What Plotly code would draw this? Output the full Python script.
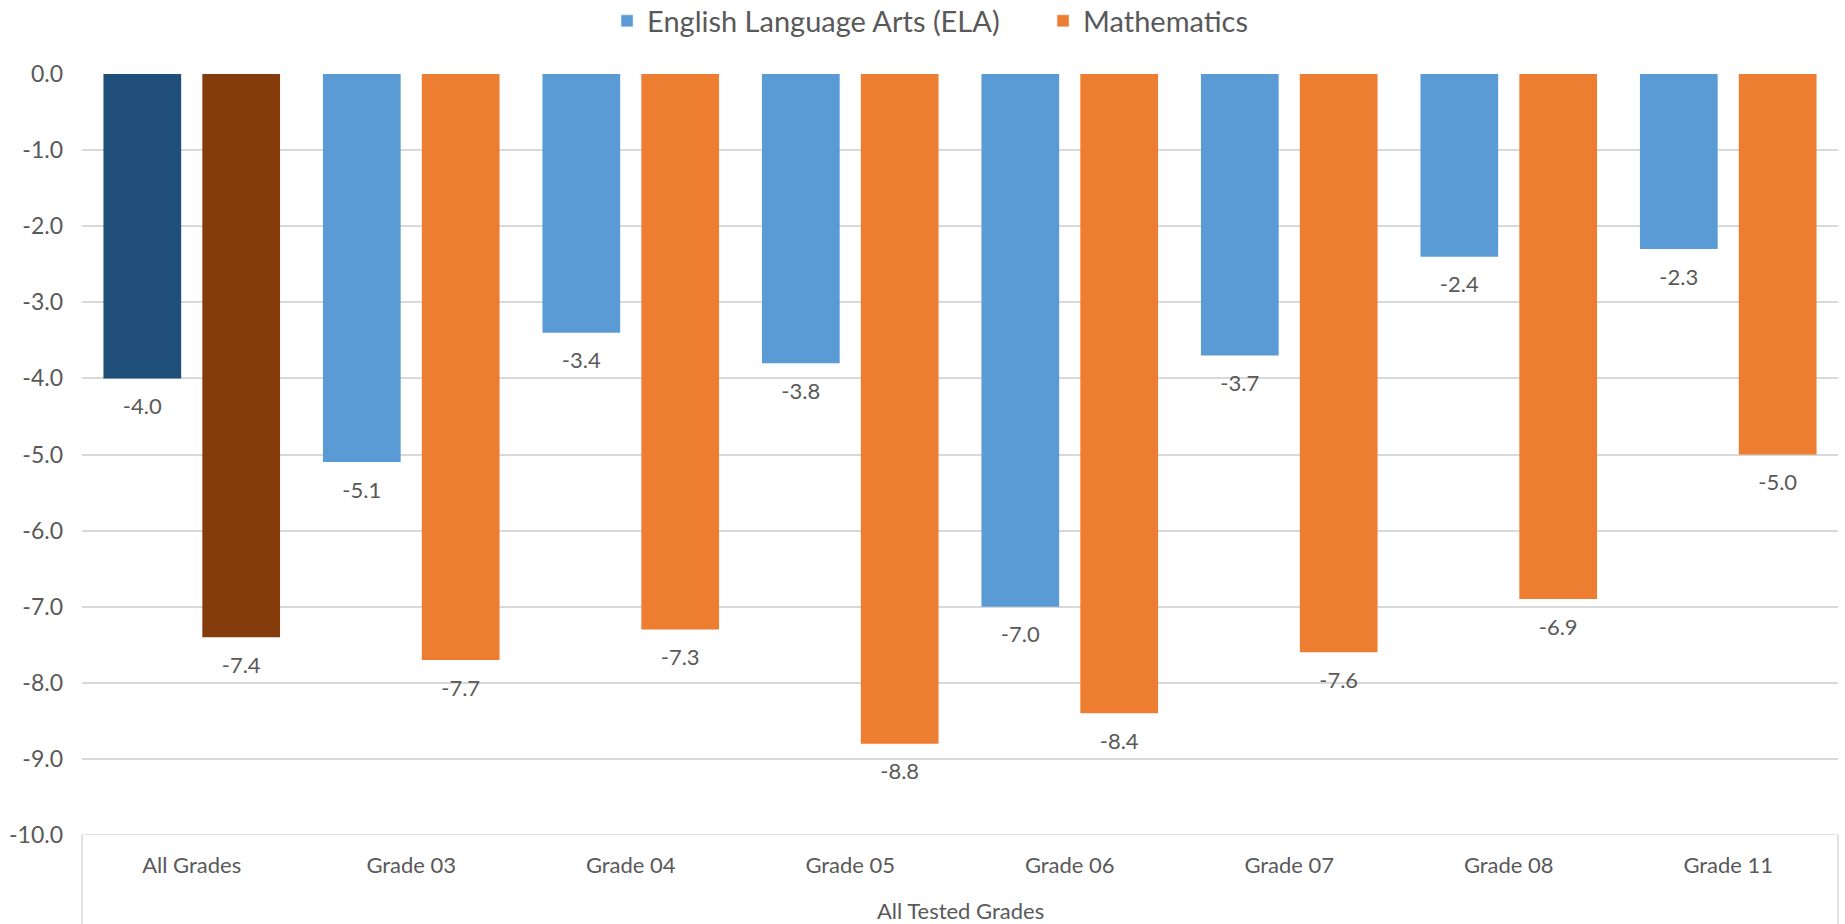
import plotly.graph_objects as go

categories = ["All Grades", "Grade 03", "Grade 04", "Grade 05", "Grade 06", "Grade 07", "Grade 08", "Grade 11"]
ela_values = [-4.0, -5.1, -3.4, -3.8, -7.0, -3.7, -2.4, -2.3]
math_values = [-7.4, -7.7, -7.3, -8.8, -8.4, -7.6, -6.9, -5.0]
group_label = "All Tested Grades"
series_names = ["English Language Arts (ELA)", "Mathematics"]
ytick_values = [0, -1, -2, -3, -4, -5, -6, -7, -8, -9, -10]
ytick_labels = ["0.0", "-1.0", "-2.0", "-3.0", "-4.0", "-5.0", "-6.0", "-7.0", "-8.0", "-9.0", "-10.0"]

ELA_COLOR, ELA_DARK = "#5B9BD5", "#1F4E79"
MATH_COLOR, MATH_DARK = "#ED7D31", "#843C0C"
TEXT = "#595959"
GRID = "#D9D9D9"
FONT = "Lato, Carlito, Calibri, sans-serif"

W, H = 1845, 924
ML, MR, MT, MB = 82, 7, 74, 89
PLOT_H = H - MT - MB

ela_colors = [ELA_DARK if c == "All Grades" else ELA_COLOR for c in categories]
math_colors = [MATH_DARK if c == "All Grades" else MATH_COLOR for c in categories]

fig = go.Figure()
series = [
    (series_names[0], ela_values, ela_colors, ELA_COLOR, "ela"),
    (series_names[1], math_values, math_colors, MATH_COLOR, "math"),
]
for name, vals, cols, base, grp in series:
    fig.add_trace(go.Bar(x=categories, y=vals, name=name, offsetgroup=grp,
                         marker=dict(color=cols, line=dict(width=0)),
                         showlegend=False, hoverinfo="x+y"))
for name, vals, cols, base, grp in series:
    fig.add_trace(go.Bar(x=[categories[0]], y=[None], name=name, offsetgroup=grp,
                         marker=dict(color=base), showlegend=True, hoverinfo="skip"))
for name, vals, cols, base, grp in series:
    fig.add_trace(go.Scatter(x=categories, y=vals, mode="markers+text", offsetgroup=grp,
                             text=[f"{v:.1f}" for v in vals], textposition="bottom center",
                             marker=dict(size=29, color="rgba(0,0,0,0)"),
                             textfont=dict(size=22, color=TEXT, family=FONT),
                             showlegend=False, hoverinfo="skip", cliponaxis=False))

fig.update_layout(
    width=W, height=H,
    margin=dict(l=ML, r=MR, t=MT, b=MB, autoexpand=False),
    paper_bgcolor="white", plot_bgcolor="white",
    barmode="group", bargap=0.099, bargroupgap=0.214,
    scattermode="group", scattergap=0.099,
    font=dict(family=FONT, color=TEXT, size=22),
    legend=dict(orientation="h", x=0.299, xanchor="left", y=1 + (MT - 21) / PLOT_H,
                yanchor="middle", entrywidth=391,
                font=dict(size=29, color=TEXT), itemwidth=30, traceorder="normal"),
    xaxis=dict(type="category", showgrid=False, showline=False, zeroline=False, automargin=False,
               ticks="", tickfont=dict(size=22, color=TEXT), ticklabelstandoff=15),
    yaxis=dict(range=[-10, 0], tickvals=ytick_values, ticktext=ytick_labels,
               showgrid=True, gridcolor=GRID, automargin=False,
               gridwidth=1.5, zeroline=False, showline=False, ticks="",
               tickfont=dict(size=23, color=TEXT), ticklabelstandoff=18),
)

fig.add_annotation(text=group_label, xref="paper", yref="paper", x=0.5, y=0,
                   yanchor="middle", yshift=-75, showarrow=False,
                   font=dict(size=22, color=TEXT))
for xp in (0, 1):
    fig.add_shape(type="line", xref="paper", yref="paper", x0=xp, x1=xp, y0=0,
                  y1=-(MB + 2) / PLOT_H, line=dict(color=GRID, width=1.5))
fig.add_shape(type="line", xref="paper", yref="y", x0=0, x1=1, y0=-10, y1=-10,
              line=dict(color=GRID, width=1.5))

fig.write_html("out.html", config={"displayModeBar": False},
               post_script="document.body.style.margin='0';document.body.style.overflow='hidden';")
